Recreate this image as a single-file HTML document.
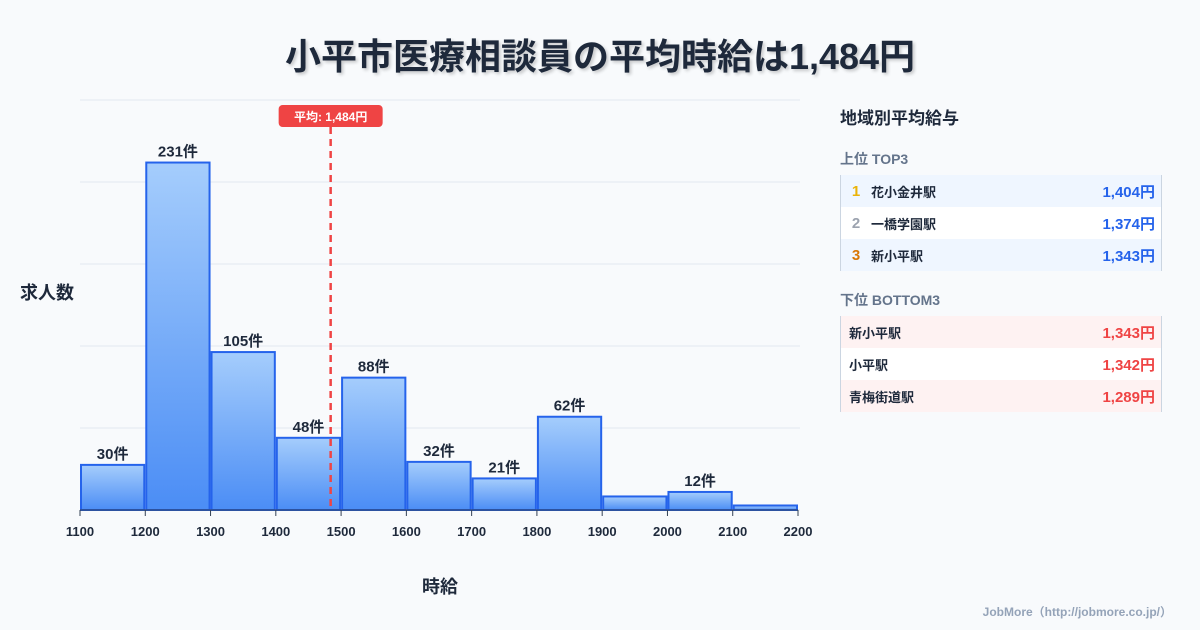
<!DOCTYPE html>
<html><head><meta charset="utf-8">
<style>
body{margin:0;width:1200px;height:630px;background:#f8fafc;font-family:"Liberation Sans","Noto Sans CJK JP",sans-serif;overflow:hidden;position:relative;color:#1e293b}
#title{position:absolute;top:28px;left:0;width:1200px;text-align:center;font-size:36px;font-weight:bold;color:#1e293b;text-shadow:2px 2px 3px rgba(0,0,0,0.2)}
.side{position:absolute;left:840px;width:320px}
.tbl{border-left:1px solid #cbd5e1;border-right:1px solid #cbd5e1}
.row{height:32px;display:flex;align-items:center;font-size:13px;font-weight:bold;position:relative}
.row .v{position:absolute;right:6px;font-size:15px}
.rk{width:30px;text-align:center;font-size:15px}
</style></head><body>
<div id="title">小平市医療相談員の平均時給は1,484円</div>
<svg id="chart" width="820" height="630" style="position:absolute;left:0;top:0"></svg>
<div class="side" style="top:104px;font-size:17px;font-weight:bold">地域別平均給与</div>
<div class="side" style="top:149px;font-size:14px;font-weight:bold;color:#64748b">上位 TOP3</div>
<div class="side tbl" style="top:175px">
<div class="row" style="background:#eff6ff"><span class="rk" style="color:#eab308">1</span>花小金井駅<span class="v" style="color:#2563eb">1,404円</span></div>
<div class="row" style="background:#fff"><span class="rk" style="color:#9ca3af">2</span>一橋学園駅<span class="v" style="color:#2563eb">1,374円</span></div>
<div class="row" style="background:#eff6ff"><span class="rk" style="color:#d97706">3</span>新小平駅<span class="v" style="color:#2563eb">1,343円</span></div>
</div>
<div class="side" style="top:290px;font-size:14px;font-weight:bold;color:#64748b">下位 BOTTOM3</div>
<div class="side tbl" style="top:316px">
<div class="row" style="background:#fef2f2;padding-left:8px">新小平駅<span class="v" style="color:#ef4444">1,343円</span></div>
<div class="row" style="background:#fff;padding-left:8px">小平駅<span class="v" style="color:#ef4444">1,342円</span></div>
<div class="row" style="background:#fef2f2;padding-left:8px">青梅街道駅<span class="v" style="color:#ef4444">1,289円</span></div>
</div>
<div style="position:absolute;right:28px;top:603px;font-size:12px;font-weight:bold;color:#94a3b8">JobMore（http://jobmore.co.jp/）</div>
<script>
const binStarts=[1100,1200,1300,1400,1500,1600,1700,1800,1900,2000,2100];
const counts=[30,231,105,48,88,32,21,62,9,12,3];
const showLabel=[true,true,true,true,true,true,true,true,false,true,false];
const xTicks=[1100,1200,1300,1400,1500,1600,1700,1800,1900,2000,2100,2200];
const avg=1484;
const avgLabel="平均: 1,484円";
const NS="http://www.w3.org/2000/svg";
const svg=document.getElementById('chart');
const X0=80,X1=798,Y0=510,Y1=100;
const xMin=1100,xMax=2200,yMax=Math.max(...counts)*1.18;
const xs=v=>X0+(v-xMin)/(xMax-xMin)*(X1-X0);
const ys=v=>Y0-v/yMax*(Y0-Y1);
function mk(t,a,p){const e=document.createElementNS(NS,t);for(const k in a)e.setAttribute(k,a[k]);(p||svg).appendChild(e);return e;}
const defs=mk('defs',{});
const g=mk('linearGradient',{id:'bg',x1:0,y1:0,x2:0,y2:1},defs);
mk('stop',{offset:'0','stop-color':'#a5cdfc'},g);mk('stop',{offset:'1','stop-color':'#4b8df5'},g);
for(let i=0;i<=5;i++){const y=Y0-i*(Y0-Y1)/5;const l=mk('line',{x1:X0,x2:X1+2,y1:y,y2:y,stroke:'#e2e8f0','stroke-width':1});
}
binStarts.forEach((b,i)=>{
 const x=xs(b)+1,w=xs(b+100)-xs(b)-2,y=ys(counts[i]);
 const r=mk('rect',{x:x,y:y,width:w,height:Y0-y,fill:'url(#bg)',stroke:'#2563eb','stroke-width':2});
 
 if(showLabel[i]){const t=mk('text',{x:x+w/2,y:y-6,'text-anchor':'middle','font-size':15,'font-weight':'bold',fill:'#1e293b'});t.textContent=counts[i]+'件';
 }
});
mk('line',{x1:X0,x2:X1,y1:Y0,y2:Y0,stroke:'#334155','stroke-width':1});
xTicks.forEach(v=>{const x=xs(v);mk('line',{x1:x,x2:x,y1:Y0,y2:Y0+6,stroke:'#334155'});
 const t=mk('text',{x:x,y:536,'text-anchor':'middle','font-size':13,'font-weight':'bold',fill:'#1e293b'});t.textContent=v;
 });
const ax=xs(avg);
const al=mk('line',{x1:ax,x2:ax,y1:127,y2:Y0,stroke:'#ef4444','stroke-width':2.5,'stroke-dasharray':'7,5'});

const ar=mk('rect',{x:ax-52,y:105,width:104,height:22,rx:4,fill:'#ef4444'});

const at=mk('text',{x:ax,y:121,'text-anchor':'middle','font-size':12,'font-weight':'bold',fill:'#fff'});at.textContent=avgLabel;

const yt=mk('text',{x:20,y:299,'font-size':18,'font-weight':'bold',fill:'#1e293b'});yt.textContent='求人数';

const xt=mk('text',{x:440,y:593,'text-anchor':'middle','font-size':18,'font-weight':'bold',fill:'#1e293b'});xt.textContent='時給';

</script>
</body></html>
